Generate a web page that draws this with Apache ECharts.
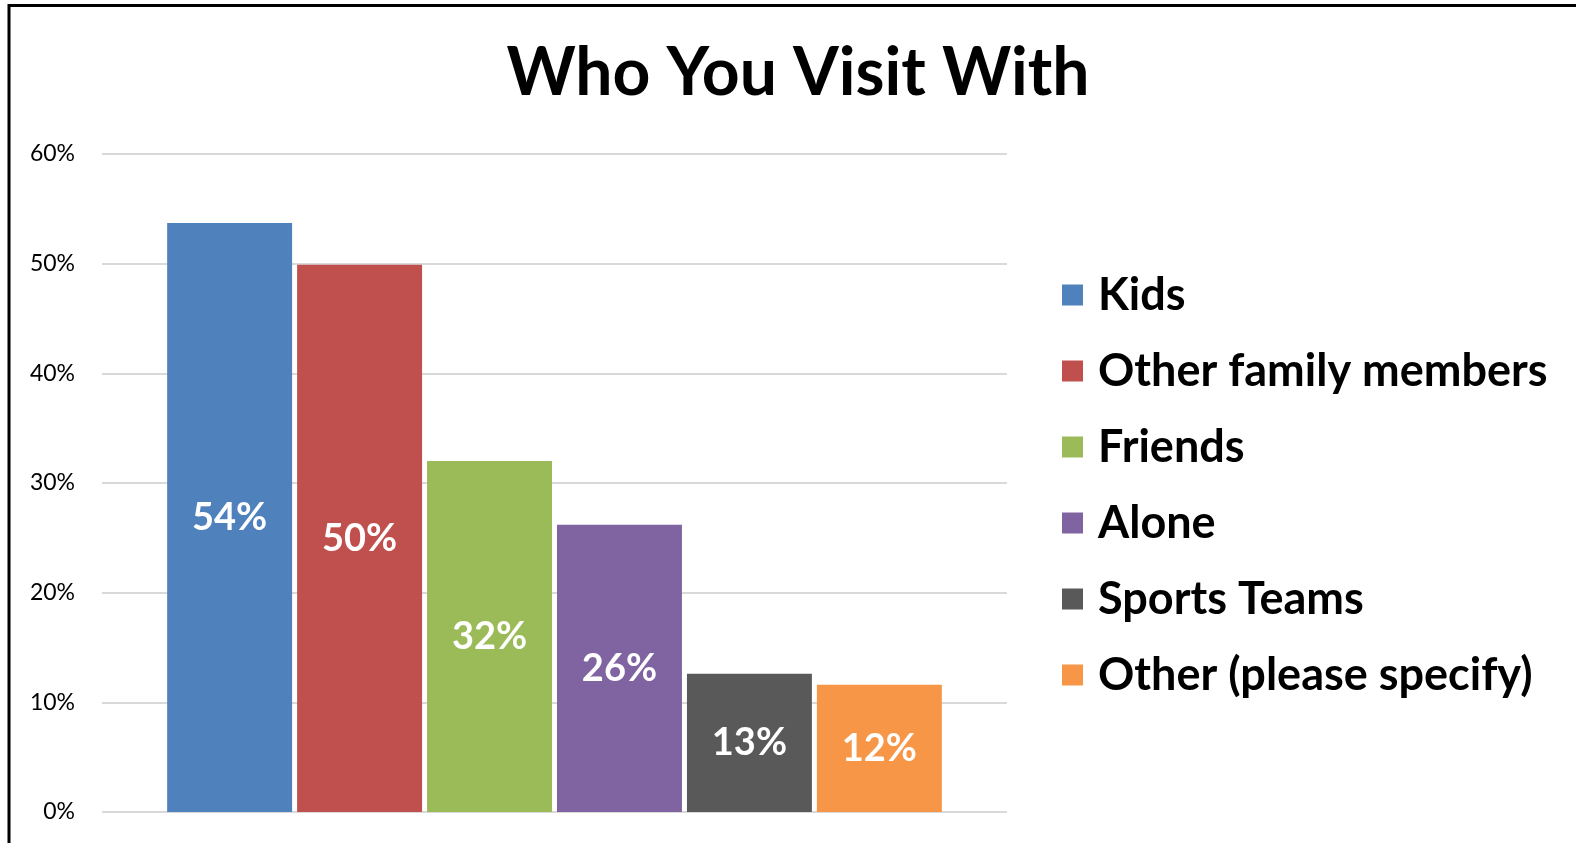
<!DOCTYPE html>
<html>
<head>
<meta charset="utf-8">
<script src="https://cdn.jsdelivr.net/npm/echarts@6/dist/echarts.min.js"></script>
<style>
html,body{margin:0;padding:0;background:#fff;}
#chart{width:1576px;height:843px;}
</style>
</head>
<body>
<div id="chart"></div>
<script>
const title = 'Who You Visit With';
const seriesNames = ['Kids', 'Other family members', 'Friends', 'Alone', 'Sports Teams', 'Other (please specify)'];
const seriesValues = [0.537, 0.499, 0.320, 0.262, 0.126, 0.116];
const seriesColors = ['#4F81BD', '#C0504D', '#9BBB59', '#8064A2', '#595959', '#F79646'];
const yTicks = { min: 0, max: 0.6, interval: 0.1 };

const chart = echarts.init(document.getElementById('chart'));
const FONT = 'Lato, "Open Sans", sans-serif';

const series = seriesNames.map((name, i) => ({
  name: name,
  type: 'bar',
  data: [seriesValues[i]],
  itemStyle: { color: seriesColors[i] },
  barGap: '4%',
  barCategoryGap: '14.4%',
  label: {
    show: true,
    position: 'inside',
    color: '#fff',
    fontFamily: FONT,
    fontWeight: 'bold',
    fontSize: 38,
    formatter: p => Math.round(p.value * 100) + '%'
  }
}));

chart.setOption({
  backgroundColor: '#fff',
  animation: false,
  title: {
    text: title,
    left: 793,
    top: 36,
    textAlign: 'center',
    textStyle: { fontFamily: FONT, fontWeight: 'bold', fontSize: 66, color: '#000' }
  },
  legend: {
    orient: 'vertical',
    left: 1057,
    top: 265,
    itemWidth: 21,
    itemHeight: 21,
    itemGap: 26,
    icon: 'rect',
    data: seriesNames,
    textStyle: {
      fontFamily: FONT, fontWeight: 'bold', fontSize: 45, color: '#000',
      lineHeight: 50, padding: [0, 0, 0, 10]
    }
  },
  grid: { left: 102, right: 569, top: 154, bottom: 31, containLabel: false },
  xAxis: {
    type: 'category',
    data: [''],
    axisLine: { show: false },
    axisTick: { show: false },
    axisLabel: { show: false }
  },
  yAxis: {
    type: 'value',
    min: yTicks.min,
    max: yTicks.max,
    interval: yTicks.interval,
    axisLine: { show: false },
    axisTick: { show: false },
    axisLabel: {
      margin: 27,
      fontFamily: FONT,
      fontSize: 23,
      color: '#000',
      formatter: v => Math.round(v * 100) + '%'
    },
    splitLine: { lineStyle: { color: '#D9D9D9', width: 2 } }
  },
  graphic: [{
    type: 'rect',
    shape: { x: 9, y: 5.5, width: 1700, height: 1000 },
    style: { fill: 'none', stroke: '#000', lineWidth: 3 },
    silent: true,
    z: 100
  }],
  series: series
});
</script>
</body>
</html>
